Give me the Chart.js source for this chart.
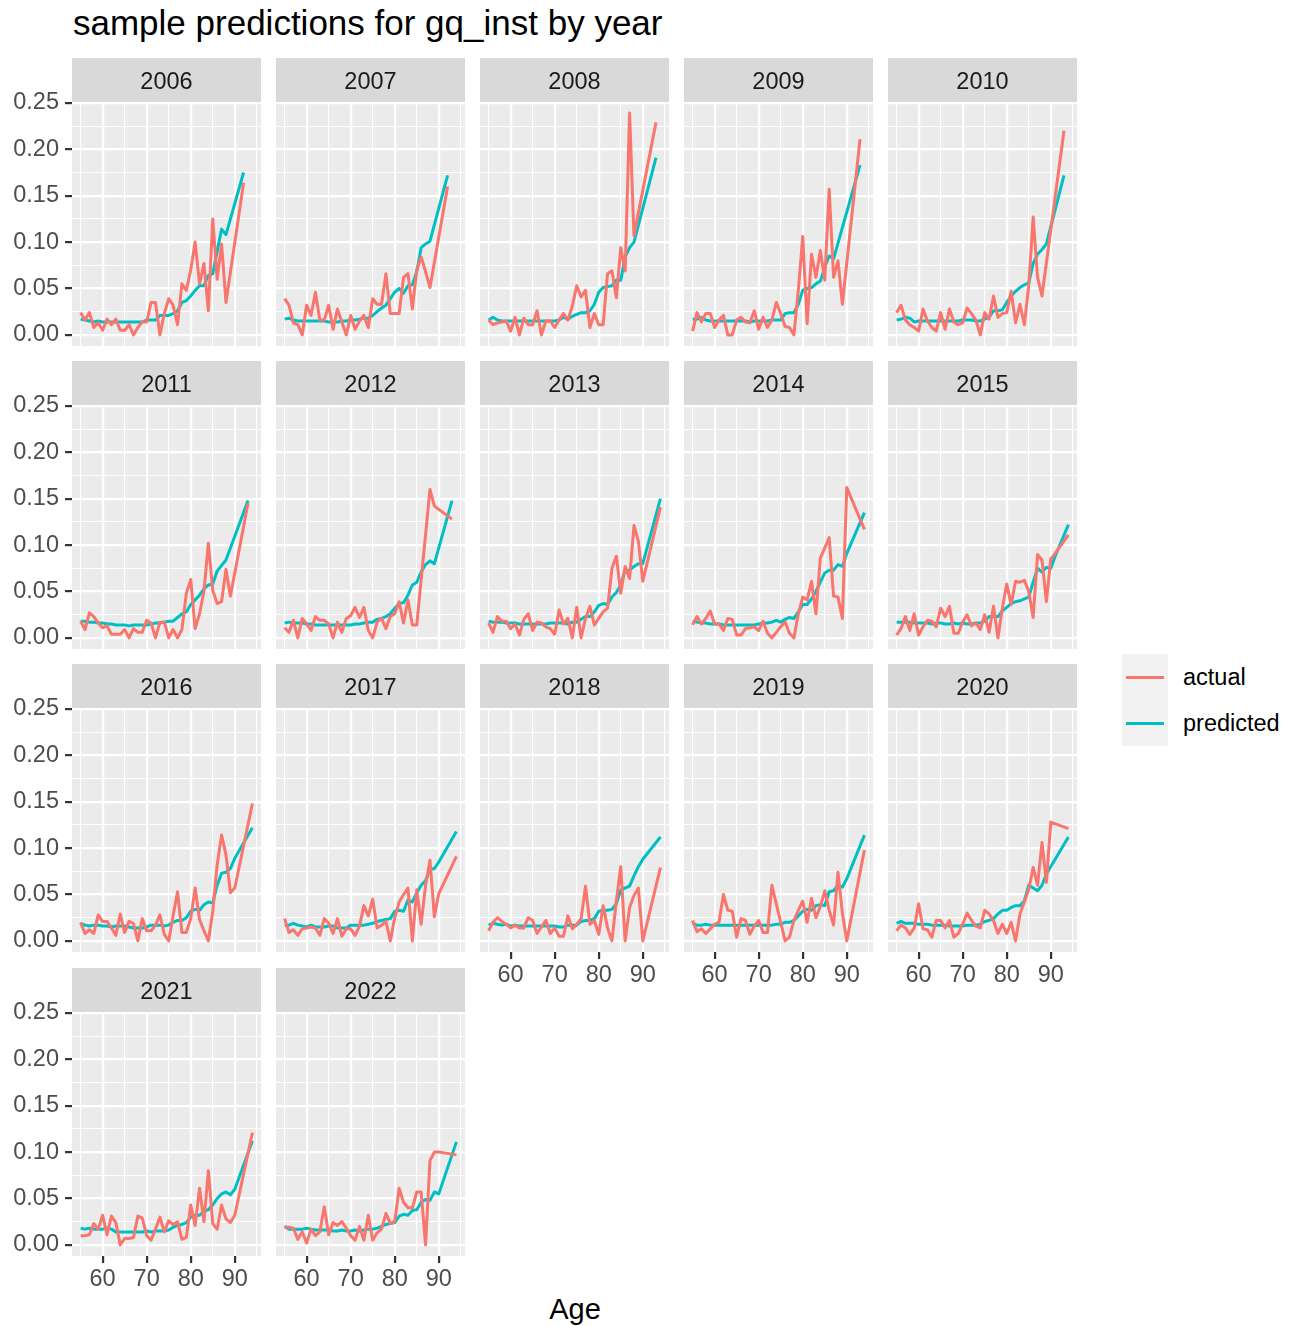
<!DOCTYPE html>
<html>
<head>
<meta charset="utf-8">
<title>sample predictions for gq_inst by year</title>
<script src="https://cdn.jsdelivr.net/npm/chart.js@4/dist/chart.umd.min.js"></script>
<style>
  html, body { margin: 0; padding: 0; background: #ffffff; }
  #page { position: relative; width: 1291px; height: 1326px; overflow: hidden;
          font-family: "Liberation Sans", Arial, Helvetica, sans-serif; }
  #page canvas { position: absolute; }
  .plot-title { position: absolute; left: 73px; top: 5px; font-size: 35px; line-height: 35px;
                color: #000; white-space: nowrap; }
  .axis-title { position: absolute; left: 475px; width: 200px; top: 1295px; text-align: center;
                font-size: 29px; line-height: 29px; color: #000; }
  .key { position: absolute; left: 1122px; width: 46px; height: 46px; background: #F2F2F2; }
  .key span { position: absolute; left: 4px; top: 21.5px; width: 38px; height: 3px; }
  .key-label { position: absolute; left: 1183px; height: 46px; line-height: 46px;
               font-size: 23.5px; color: #000; white-space: nowrap; }
</style>
</head>
<body>
<div id="page">
  <div class="plot-title">sample predictions for gq_inst by year</div>
  <div class="axis-title">Age</div>
  <div class="key" style="top:654px"><span style="background:#F8766D"></span></div>
  <div class="key" style="top:700px"><span style="background:#00BFC4"></span></div>
  <div class="key-label" style="top:654px">actual</div>
  <div class="key-label" style="top:700px">predicted</div>
</div>
<script>
// ---- data: one value per age (55..94); null where an age has no row ----
const ages = [55, 56, 57, 58, 59, 60, 61, 62, 63, 64,
              65, 66, 67, 68, 69, 70, 71, 72, 73, 74,
              75, 76, 77, 78, 79, 80, 81, 82, 83, 84,
              85, 86, 87, 88, 89, 90, 91, 92, 93, 94];

const years = [2006, 2007, 2008, 2009, 2010, 2011, 2012, 2013, 2014,
               2015, 2016, 2017, 2018, 2019, 2020, 2021, 2022];

const actual2006 = [0.024, 0.016, 0.024, 0.008, 0.013, 0.005, 0.017, 0.011, 0.017, 0.005,
                    0.005, 0.011, 0.000, 0.008, 0.014, 0.014, 0.035, 0.035, 0.000, 0.023,
                    0.039, 0.032, 0.011, 0.055, 0.048, 0.070, 0.100, 0.055, 0.077, 0.026,
                    0.125, 0.060, 0.098, 0.035, null, null, null, 0.164, null, null];
const predicted2006 = [0.017, 0.016, 0.015, 0.014, 0.015, 0.014, 0.014, 0.014, 0.014, 0.014,
                       0.014, 0.014, 0.014, 0.014, 0.014, 0.016, 0.016, 0.016, 0.021, 0.021,
                       0.021, 0.023, 0.026, 0.035, 0.037, 0.042, 0.048, 0.053, 0.053, 0.064,
                       0.066, 0.090, 0.114, 0.108, null, null, null, 0.175, null, null];

const actual2007 = [0.039, 0.032, 0.013, 0.011, 0.000, 0.032, 0.021, 0.046, 0.016, 0.016,
                    0.032, 0.006, 0.028, 0.014, 0.000, 0.021, 0.006, 0.015, 0.021, 0.008,
                    0.039, 0.033, 0.033, 0.066, 0.023, 0.023, 0.023, 0.062, 0.066, 0.028,
                    0.070, 0.084, 0.068, 0.051, null, null, null, 0.160, null, null];
const predicted2007 = [0.017, 0.018, 0.016, 0.015, 0.015, 0.015, 0.015, 0.015, 0.015, 0.015,
                       0.014, 0.014, 0.014, 0.015, 0.015, 0.016, 0.016, 0.017, 0.018, 0.018,
                       0.021, 0.025, 0.029, 0.032, 0.039, 0.046, 0.050, 0.045, 0.053, 0.054,
                       0.068, 0.094, 0.098, 0.101, null, null, null, 0.172, null, null];

const actual2008 = [0.016, 0.011, 0.013, 0.014, 0.015, 0.004, 0.019, 0.000, 0.018, 0.011,
                    0.011, 0.026, 0.000, 0.015, 0.015, 0.008, 0.016, 0.023, 0.016, 0.031,
                    0.053, 0.041, 0.048, 0.008, 0.023, 0.011, 0.011, 0.066, 0.069, 0.040,
                    0.094, 0.069, 0.239, 0.107, null, null, null, null, 0.229, null];
const predicted2008 = [0.016, 0.019, 0.016, 0.015, 0.015, 0.015, 0.015, 0.015, 0.015, 0.015,
                       0.015, 0.015, 0.015, 0.015, 0.015, 0.015, 0.016, 0.019, 0.017, 0.020,
                       0.022, 0.024, 0.024, 0.026, 0.033, 0.046, 0.051, 0.052, 0.053, 0.059,
                       0.059, 0.084, 0.094, 0.100, null, null, null, null, 0.191, null];

const actual2009 = [0.004, 0.024, 0.014, 0.023, 0.023, 0.008, 0.016, 0.021, 0.000, 0.000,
                    0.016, 0.019, 0.014, 0.013, 0.026, 0.006, 0.019, 0.008, 0.016, 0.035,
                    0.023, 0.009, 0.008, 0.000, 0.048, 0.106, 0.012, 0.087, 0.062, 0.091,
                    0.059, 0.157, 0.062, 0.080, 0.033, null, null, null, 0.211, null];
const predicted2009 = [0.017, 0.017, 0.019, 0.016, 0.015, 0.015, 0.015, 0.015, 0.015, 0.015,
                       0.015, 0.015, 0.015, 0.014, 0.015, 0.015, 0.015, 0.015, 0.016, 0.016,
                       0.016, 0.023, 0.024, 0.024, 0.033, 0.048, 0.050, 0.051, 0.055, 0.058,
                       0.073, 0.085, 0.082, null, null, null, null, null, 0.183, null];

const actual2010 = [0.024, 0.032, 0.016, 0.011, 0.008, 0.004, 0.028, 0.015, 0.008, 0.004,
                    0.024, 0.006, 0.028, 0.014, 0.011, 0.013, 0.029, 0.023, 0.016, 0.000,
                    0.024, 0.017, 0.042, 0.019, 0.023, 0.024, 0.047, 0.013, 0.033, 0.011,
                    0.053, 0.127, 0.062, 0.042, null, null, null, null, 0.220, null];
const predicted2010 = [0.016, 0.017, 0.019, 0.018, 0.014, 0.015, 0.015, 0.015, 0.015, 0.015,
                       0.015, 0.015, 0.015, 0.015, 0.015, 0.016, 0.016, 0.016, 0.015, 0.015,
                       0.017, 0.019, 0.026, 0.026, 0.027, 0.035, 0.042, 0.047, 0.051, 0.054,
                       0.056, 0.077, 0.087, 0.092, 0.098, null, null, null, 0.172, null];

const actual2011 = [0.018, 0.009, 0.027, 0.023, 0.016, 0.011, 0.013, 0.004, 0.004, 0.004,
                    0.009, 0.000, 0.010, 0.006, 0.006, 0.019, 0.016, 0.000, 0.017, 0.017,
                    0.000, 0.009, 0.000, 0.009, 0.048, 0.063, 0.010, 0.026, 0.050, 0.102,
                    0.051, 0.037, 0.039, 0.074, 0.045, null, null, null, 0.145, null];
const predicted2011 = [0.018, 0.018, 0.017, 0.017, 0.016, 0.016, 0.015, 0.015, 0.014, 0.014,
                       0.014, 0.013, 0.014, 0.014, 0.014, 0.014, 0.015, 0.016, 0.016, 0.017,
                       0.018, 0.018, 0.022, 0.026, 0.028, 0.036, 0.041, 0.046, 0.053, 0.057,
                       0.058, 0.072, 0.078, 0.084, null, null, null, null, 0.148, null];

const actual2012 = [0.011, 0.006, 0.019, 0.000, 0.021, 0.015, 0.008, 0.023, 0.019, 0.019,
                    0.015, 0.000, 0.017, 0.006, 0.021, 0.024, 0.033, 0.022, 0.033, 0.008,
                    0.000, 0.017, 0.021, 0.010, 0.023, 0.026, 0.039, 0.016, 0.041, 0.014,
                    0.014, null, null, 0.160, 0.142, null, null, null, 0.128, null];
const predicted2012 = [0.016, 0.017, 0.016, 0.016, 0.016, 0.015, 0.015, 0.014, 0.014, 0.014,
                       0.014, 0.014, 0.014, 0.014, 0.014, 0.014, 0.015, 0.015, 0.016, 0.017,
                       0.017, 0.020, 0.021, 0.023, 0.026, 0.032, 0.037, 0.038, 0.046, 0.057,
                       0.060, 0.071, 0.079, 0.083, 0.080, null, null, null, 0.148, null];

const actual2013 = [0.016, 0.006, 0.023, 0.018, 0.018, 0.010, 0.015, 0.003, 0.020, 0.026,
                    0.008, 0.017, 0.016, 0.012, 0.010, 0.004, 0.030, 0.015, 0.021, 0.000,
                    0.033, 0.000, 0.021, 0.034, 0.014, 0.021, 0.028, 0.032, 0.075, 0.088,
                    0.048, 0.077, 0.064, 0.121, 0.104, 0.061, null, null, null, 0.141];
const predicted2013 = [0.018, 0.017, 0.017, 0.017, 0.016, 0.016, 0.016, 0.015, 0.015, 0.015,
                       0.015, 0.015, 0.015, 0.015, 0.016, 0.016, 0.016, 0.016, 0.015, 0.017,
                       0.017, 0.020, 0.023, 0.023, 0.028, 0.035, 0.037, 0.036, 0.044, 0.049,
                       0.057, 0.073, 0.073, 0.077, 0.080, 0.080, null, null, null, 0.150];

const actual2014 = [0.014, 0.023, 0.015, 0.021, 0.029, 0.015, 0.015, 0.008, 0.021, 0.020,
                    0.003, 0.003, 0.010, 0.011, 0.012, 0.008, 0.018, 0.005, 0.000, 0.006,
                    0.012, 0.017, 0.005, 0.000, 0.026, 0.044, 0.041, 0.061, 0.026, 0.086,
                    0.097, 0.108, 0.045, 0.044, 0.021, 0.162, null, null, null, 0.117];
const predicted2014 = [0.018, 0.017, 0.016, 0.016, 0.015, 0.015, 0.015, 0.014, 0.014, 0.014,
                       0.014, 0.014, 0.014, 0.014, 0.014, 0.015, 0.016, 0.016, 0.017, 0.019,
                       0.017, 0.020, 0.022, 0.021, 0.028, 0.036, 0.036, 0.042, 0.050, 0.060,
                       0.070, 0.073, 0.073, 0.079, 0.077, 0.091, null, null, null, 0.135];

const actual2015 = [0.003, 0.010, 0.023, 0.008, 0.026, 0.003, 0.012, 0.019, 0.018, 0.012,
                    0.032, 0.023, 0.034, 0.005, 0.005, 0.017, 0.025, 0.013, 0.016, 0.009,
                    0.025, 0.006, 0.034, 0.000, 0.032, 0.058, 0.036, 0.061, 0.060, 0.062,
                    0.050, 0.022, 0.090, 0.084, 0.039, 0.085, 0.091, null, null, 0.111];
const predicted2015 = [0.017, 0.017, 0.017, 0.017, 0.016, 0.016, 0.016, 0.016, 0.015, 0.016,
                       0.016, 0.015, 0.015, 0.016, 0.015, 0.016, 0.015, 0.015, 0.016, 0.016,
                       0.018, 0.023, 0.023, 0.023, 0.029, 0.033, 0.037, 0.039, 0.040, 0.042,
                       0.044, 0.060, 0.075, 0.071, 0.076, 0.075, 0.088, null, null, 0.122];

const actual2016 = [0.020, 0.008, 0.012, 0.008, 0.028, 0.021, 0.021, 0.014, 0.006, 0.029,
                    0.009, 0.021, 0.019, 0.000, 0.024, 0.011, 0.011, 0.017, 0.028, 0.007,
                    0.000, 0.027, 0.053, 0.009, 0.009, 0.024, 0.057, 0.023, 0.011, 0.000,
                    0.032, 0.082, 0.114, 0.093, 0.052, 0.057, null, null, null, 0.148];
const predicted2016 = [0.019, 0.017, 0.016, 0.017, 0.017, 0.016, 0.016, 0.015, 0.016, 0.016,
                       0.016, 0.015, 0.014, 0.014, 0.014, 0.015, 0.017, 0.017, 0.017, 0.016,
                       0.017, 0.020, 0.022, 0.022, 0.025, 0.032, 0.034, 0.033, 0.039, 0.042,
                       0.041, 0.060, 0.073, 0.074, 0.078, 0.089, null, null, null, 0.122];

const actual2017 = [0.024, 0.009, 0.012, 0.006, 0.013, 0.014, 0.015, 0.014, 0.006, 0.024,
                    0.019, 0.008, 0.024, 0.005, 0.013, 0.013, 0.006, 0.016, 0.038, 0.027,
                    0.045, 0.014, 0.017, 0.021, 0.000, 0.025, 0.042, 0.050, 0.057, 0.000,
                    0.055, 0.018, 0.060, 0.087, 0.026, 0.051, null, null, null, 0.091];
const predicted2017 = [0.017, 0.017, 0.019, 0.017, 0.016, 0.015, 0.017, 0.015, 0.015, 0.015,
                       0.016, 0.016, 0.014, 0.014, 0.014, 0.017, 0.017, 0.017, 0.017, 0.018,
                       0.019, 0.021, 0.022, 0.023, 0.024, 0.032, 0.033, 0.032, 0.044, 0.042,
                       0.052, 0.060, 0.065, 0.077, 0.078, 0.085, null, null, null, 0.118];

const actual2018 = [0.011, 0.020, 0.025, 0.021, 0.018, 0.014, 0.017, 0.014, 0.014, 0.025,
                    0.022, 0.008, 0.015, 0.022, 0.008, 0.014, 0.005, 0.005, 0.027, 0.013,
                    0.018, 0.024, 0.059, 0.018, 0.022, 0.007, 0.038, 0.014, 0.000, 0.043,
                    0.080, 0.000, 0.036, 0.049, 0.057, 0.000, null, null, null, 0.079];
const predicted2018 = [0.017, 0.019, 0.018, 0.017, 0.018, 0.016, 0.017, 0.016, 0.016, 0.016,
                       0.016, 0.016, 0.016, 0.016, 0.016, 0.016, 0.015, 0.015, 0.017, 0.017,
                       0.017, 0.021, 0.022, 0.022, 0.024, 0.032, 0.033, 0.033, 0.034, 0.040,
                       0.055, 0.057, 0.059, 0.070, 0.080, 0.088, null, null, null, 0.112];

const actual2019 = [0.022, 0.010, 0.013, 0.008, 0.013, 0.018, 0.020, 0.050, 0.033, 0.032,
                    0.004, 0.024, 0.022, 0.007, 0.016, 0.022, 0.009, 0.009, 0.060, 0.040,
                    0.020, 0.000, 0.004, 0.022, 0.033, 0.043, 0.020, 0.046, 0.025, 0.037,
                    0.054, 0.033, 0.017, 0.074, 0.030, 0.000, null, null, null, 0.098];
const predicted2019 = [0.019, 0.017, 0.017, 0.018, 0.017, 0.017, 0.017, 0.017, 0.017, 0.017,
                       0.017, 0.017, 0.017, 0.017, 0.017, 0.017, 0.017, 0.017, 0.017, 0.018,
                       0.018, 0.020, 0.020, 0.022, 0.027, 0.032, 0.034, 0.033, 0.038, 0.039,
                       0.038, 0.053, 0.054, 0.060, 0.058, 0.067, null, null, null, 0.114];

const actual2020 = [0.011, 0.017, 0.014, 0.007, 0.014, 0.040, 0.013, 0.012, 0.004, 0.022,
                    0.022, 0.014, 0.022, 0.004, 0.008, 0.018, 0.030, 0.022, 0.016, 0.014,
                    0.033, 0.029, 0.022, 0.008, 0.018, 0.008, 0.020, 0.000, 0.029, 0.042,
                    0.056, 0.079, 0.060, 0.106, 0.063, 0.128, null, null, null, 0.121];
const predicted2020 = [0.019, 0.021, 0.019, 0.019, 0.019, 0.018, 0.018, 0.018, 0.017, 0.017,
                       0.017, 0.017, 0.016, 0.016, 0.016, 0.016, 0.017, 0.017, 0.017, 0.018,
                       0.021, 0.022, 0.024, 0.029, 0.033, 0.033, 0.036, 0.038, 0.038, 0.043,
                       0.060, 0.057, 0.054, 0.060, 0.072, null, null, null, null, 0.112];

const actual2021 = [0.010, 0.010, 0.011, 0.023, 0.017, 0.032, 0.011, 0.031, 0.024, 0.000,
                    0.007, 0.007, 0.008, 0.031, 0.029, 0.010, 0.005, 0.017, 0.030, 0.014,
                    0.026, 0.022, 0.025, 0.006, 0.008, 0.043, 0.021, 0.061, 0.025, 0.080,
                    0.023, 0.017, 0.043, 0.028, 0.024, 0.032, null, null, null, 0.121];
const predicted2021 = [0.018, 0.017, 0.018, 0.017, 0.017, 0.017, 0.018, 0.017, 0.014, 0.014,
                       0.014, 0.014, 0.014, 0.014, 0.014, 0.015, 0.014, 0.015, 0.015, 0.015,
                       0.016, 0.019, 0.021, 0.022, 0.024, 0.030, 0.032, 0.032, 0.036, 0.038,
                       0.043, 0.050, 0.055, 0.057, 0.054, 0.060, null, null, null, 0.112];

const actual2022 = [0.019, 0.019, 0.018, 0.006, 0.014, 0.002, 0.017, 0.010, 0.014, 0.041,
                    0.011, 0.024, 0.021, 0.025, 0.018, 0.010, 0.005, 0.020, 0.005, 0.032,
                    0.005, 0.013, 0.017, 0.034, 0.023, 0.025, 0.061, 0.046, 0.040, 0.040,
                    0.057, 0.057, 0.000, 0.091, 0.100, 0.100, null, null, null, 0.097];
const predicted2022 = [0.020, 0.017, 0.017, 0.017, 0.017, 0.018, 0.017, 0.016, 0.016, 0.016,
                       0.016, 0.015, 0.015, 0.016, 0.015, 0.015, 0.016, 0.015, 0.016, 0.017,
                       0.017, 0.018, 0.020, 0.022, 0.023, 0.024, 0.031, 0.033, 0.032, 0.037,
                       0.038, 0.046, 0.049, 0.048, 0.057, 0.055, null, null, null, 0.111];

const actualByYear = [actual2006, actual2007, actual2008, actual2009, actual2010, actual2011,
                      actual2012, actual2013, actual2014, actual2015, actual2016, actual2017,
                      actual2018, actual2019, actual2020, actual2021, actual2022];
const predictedByYear = [predicted2006, predicted2007, predicted2008, predicted2009, predicted2010,
                         predicted2011, predicted2012, predicted2013, predicted2014, predicted2015,
                         predicted2016, predicted2017, predicted2018, predicted2019, predicted2020,
                         predicted2021, predicted2022];

// axis breaks and their labels
const yBreaks = [0, 0.05, 0.10, 0.15, 0.20, 0.25];
const yBreakLabels = ['0.00', '0.05', '0.10', '0.15', '0.20', '0.25'];
const yMinorBreaks = [0.025, 0.075, 0.125, 0.175, 0.225];
const xBreaks = [60, 70, 80, 90];
const xBreakLabels = ['60', '70', '80', '90'];
const xMinorBreaks = [55, 65, 75, 85, 95];

const seriesNames = ['actual', 'predicted'];
const seriesColors = ['#F8766D', '#00BFC4'];

// ---- shared scale limits (5% expansion on each side, like the default continuous scale) ----
const allValues = actualByYear.concat(predictedByYear).flat().filter(v => v !== null);
const yLo = Math.min(...allValues), yHi = Math.max(...allValues);
const Y_MIN = yLo - 0.05 * (yHi - yLo), Y_MAX = yHi + 0.05 * (yHi - yLo);
const xLo = Math.min(...ages), xHi = Math.max(...ages);
const X_MIN = xLo - 0.05 * (xHi - xLo), X_MAX = xHi + 0.05 * (xHi - xLo);

// ---- facet layout ----
const NCOL = 5;
const colLeft = [72, 276, 480, 684, 888];
const rowTop = [102, 405, 708, 1012];
const PANEL_W = 189, PANEL_H = 244, STRIP_H = 44, XAXIS_H = 44;
const TEXT_SIZE = 23.5;

const FONT = '"Liberation Sans", Arial, Helvetica, sans-serif';
Chart.defaults.font.family = FONT;
Chart.defaults.font.size = TEXT_SIZE;
Chart.defaults.color = '#4D4D4D';

const near = (list, v) => list.some(b => Math.abs(b - v) < 1e-9);
const labelFor = (breaks, labels, v) => {
  const k = breaks.findIndex(b => Math.abs(b - v) < 1e-9);
  return k < 0 ? '' : labels[k];
};

// panel background and the grey strip holding the facet label
const facetPanel = {
  id: 'facetPanel',
  beforeDraw(chart, args, opts) {
    const { ctx, chartArea: a } = chart;
    ctx.save();
    ctx.fillStyle = '#EBEBEB';
    ctx.fillRect(a.left, a.top, a.right - a.left, a.bottom - a.top);
    ctx.fillStyle = '#D9D9D9';
    ctx.fillRect(a.left, a.top - STRIP_H, a.right - a.left, STRIP_H);
    ctx.fillStyle = '#1A1A1A';
    ctx.font = TEXT_SIZE + 'px ' + FONT;
    ctx.textAlign = 'center';
    ctx.textBaseline = 'middle';
    ctx.fillText(opts.text, (a.left + a.right) / 2, a.top - STRIP_H / 2 + 2.5);
    ctx.restore();
  }
};

const page = document.getElementById('page');

years.forEach((year, i) => {
  const col = i % NCOL, row = Math.floor(i / NCOL);
  const showY = col === 0;
  const showX = i + NCOL >= years.length;
  const yAxisW = showY ? colLeft[0] : 0;
  const xAxisH = showX ? XAXIS_H : 0;

  const canvas = document.createElement('canvas');
  canvas.width = yAxisW + PANEL_W;
  canvas.height = STRIP_H + PANEL_H + xAxisH;
  canvas.style.left = (showY ? 0 : colLeft[col]) + 'px';
  canvas.style.top = (rowTop[row] - STRIP_H) + 'px';
  canvas.style.width = canvas.width + 'px';
  canvas.style.height = canvas.height + 'px';
  page.appendChild(canvas);

  const series = [actualByYear[i], predictedByYear[i]];
  const datasets = series.map((vals, s) => ({
    label: seriesNames[s],
    data: ages.map((a, k) => ({ x: a, y: vals[k] })).filter(p => p.y !== null),
    borderColor: seriesColors[s],
    backgroundColor: seriesColors[s],
    borderWidth: 3,
    borderJoinStyle: 'round',
    pointRadius: 0,
    tension: 0,
    fill: false
  }));

  new Chart(canvas, {
    type: 'line',
    data: { datasets },
    options: {
      responsive: false,
      animation: false,
      devicePixelRatio: 1,
      events: [],
      layout: { autoPadding: false, padding: { top: STRIP_H, left: 0, right: 0, bottom: 0 } },
      plugins: {
        legend: { display: false },
        tooltip: { enabled: false },
        facetPanel: { text: String(year) }
      },
      scales: {
        x: {
          type: 'linear',
          min: X_MIN,
          max: X_MAX,
          border: { display: false },
          afterBuildTicks: s => {
            s.ticks = xMinorBreaks.concat(xBreaks).sort((p, q) => p - q).map(v => ({ value: v }));
          },
          afterFit: s => {
            s.height = xAxisH;
            s.paddingLeft = 0; s.paddingRight = 0; s.paddingTop = 0; s.paddingBottom = 0;
          },
          grid: {
            color: '#FFFFFF',
            lineWidth: c => near(xBreaks, c.tick.value) ? 2.2 : 1.1,
            drawTicks: showX,
            tickLength: 7,
            tickWidth: 2.2,
            tickColor: c => near(xBreaks, c.tick.value) ? '#333333' : 'rgba(0,0,0,0)'
          },
          ticks: {
            display: showX,
            autoSkip: false,
            maxRotation: 0,
            minRotation: 0,
            padding: 2,
            color: '#4D4D4D',
            font: { size: TEXT_SIZE, lineHeight: 1.2 },
            callback: v => labelFor(xBreaks, xBreakLabels, v)
          }
        },
        y: {
          type: 'linear',
          min: Y_MIN,
          max: Y_MAX,
          border: { display: false },
          afterBuildTicks: s => {
            s.ticks = yMinorBreaks.concat(yBreaks).sort((p, q) => p - q).map(v => ({ value: v }));
          },
          afterFit: s => {
            s.width = yAxisW;
            s.paddingLeft = 0; s.paddingRight = 0; s.paddingTop = 0; s.paddingBottom = 0;
          },
          grid: {
            color: '#FFFFFF',
            lineWidth: c => near(yBreaks, c.tick.value) ? 2.2 : 1.1,
            drawTicks: showY,
            tickLength: 7,
            tickWidth: 2.2,
            tickColor: c => near(yBreaks, c.tick.value) ? '#333333' : 'rgba(0,0,0,0)'
          },
          ticks: {
            display: showY,
            autoSkip: false,
            padding: 6,
            color: '#4D4D4D',
            font: { size: TEXT_SIZE },
            callback: v => labelFor(yBreaks, yBreakLabels, v)
          }
        }
      }
    },
    plugins: [facetPanel]
  });
});
</script>
</body>
</html>
